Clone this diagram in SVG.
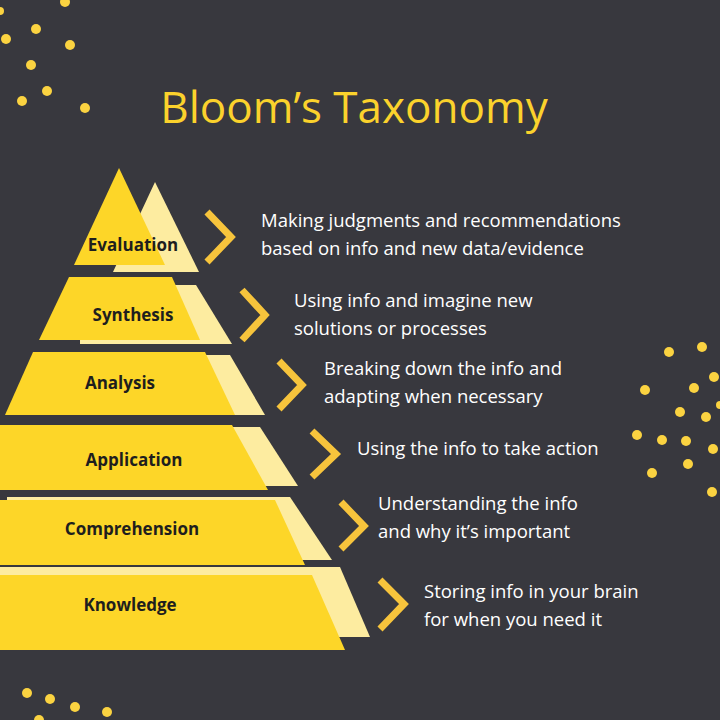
<svg xmlns="http://www.w3.org/2000/svg" width="720" height="720" viewBox="0 0 720 720">
<style>
.f{fill:#fdd628}.b{fill:#fdeca0}.lbl{font-family:"Open Sans",sans-serif;font-weight:bold;font-size:17px;fill:#1e1e1e;text-anchor:middle}
.d{font-family:"Open Sans",sans-serif;font-size:18.5px;fill:#ffffff}
.ch{fill:none;stroke:#f7c43c;stroke-width:7}
.dot{fill:#fbd341}
</style>
<rect width="720" height="720" fill="#38383e"/>
<g id="dots">
<circle class="dot" cx="65" cy="2" r="5"/><circle class="dot" cx="0" cy="11" r="4"/><circle class="dot" cx="36" cy="29" r="5"/><circle class="dot" cx="6" cy="39" r="5"/><circle class="dot" cx="70" cy="45" r="5"/><circle class="dot" cx="31" cy="65" r="5"/><circle class="dot" cx="47" cy="91" r="5"/><circle class="dot" cx="22" cy="101" r="5"/><circle class="dot" cx="85" cy="108" r="5"/>
<circle class="dot" cx="669" cy="352" r="5"/><circle class="dot" cx="702" cy="347" r="5"/><circle class="dot" cx="714" cy="377" r="5"/><circle class="dot" cx="694" cy="388" r="5"/><circle class="dot" cx="645" cy="390" r="5"/><circle class="dot" cx="680" cy="412" r="5"/><circle class="dot" cx="706" cy="417" r="5"/><circle class="dot" cx="637" cy="435" r="5"/><circle class="dot" cx="662" cy="440" r="5"/><circle class="dot" cx="686" cy="441" r="5"/><circle class="dot" cx="713" cy="449" r="5"/><circle class="dot" cx="688" cy="464" r="5"/><circle class="dot" cx="652" cy="473" r="5"/><circle class="dot" cx="712" cy="492" r="5"/><circle class="dot" cx="720" cy="405" r="4"/>
<circle class="dot" cx="27" cy="693" r="5"/><circle class="dot" cx="50" cy="699" r="5"/><circle class="dot" cx="75" cy="707" r="5"/><circle class="dot" cx="107" cy="712" r="5"/><circle class="dot" cx="39" cy="720" r="5"/>
</g>
<text x="354" y="123" font-family="Open Sans, sans-serif" font-size="44" fill="#fbd22c" text-anchor="middle">Bloom’s Taxonomy</text>
<g id="evaluation">
<polygon class="b" points="155,182 199,272 113,272"/>
<polygon class="f" points="119,168 165,265 74,265"/>
<text class="lbl" x="133" y="251">Evaluation</text>
</g>
<g id="synthesis">
<polygon class="b" points="80,285 196,285 232,344 80,344"/>
<polygon class="f" points="69,277 172,277 200,340 39,340"/>
<text class="lbl" x="133" y="321">Synthesis</text>
</g>
<g id="analysis">
<polygon class="b" points="40,355 230,355 265,415 40,415"/>
<polygon class="f" points="33,352 205,352 235,415 5,415"/>
<text class="lbl" x="120" y="389">Analysis</text>
</g>
<g id="application">
<polygon class="b" points="40,427 260,427 298,486 40,486"/>
<polygon class="f" points="0,425 232,425 268,490 0,490"/>
<text class="lbl" x="134" y="466">Application</text>
</g>
<g id="comprehension">
<polygon class="b" points="7,497 290,497 332,560 7,560"/>
<polygon class="f" points="0,500 275,500 305,565 0,565"/>
<text class="lbl" x="132" y="535">Comprehension</text>
</g>
<g id="knowledge">
<polygon class="b" points="0,567 340,567 370,637 0,637"/>
<polygon class="f" points="0,575 312,575 345,650 0,650"/>
<text class="lbl" x="130" y="611">Knowledge</text>
</g>
<g id="connectors">
<polyline class="ch" points="207,212 231,237 207,262"/>
<polyline class="ch" points="242,290 265,315 242,340"/>
<polyline class="ch" points="279,361 302,385 279,409"/>
<polyline class="ch" points="312,431 336,454 312,477"/>
<polyline class="ch" points="341,502 364,526 341,549"/>
<polyline class="ch" points="380,580 404,604 380,629"/>
</g>
<g id="descriptions">
<text class="d" x="261" y="227">Making judgments and recommendations</text>
<text class="d" x="261" y="255">based on info and new data/evidence</text>
<text class="d" x="294" y="307">Using info and imagine new</text>
<text class="d" x="294" y="335">solutions or processes</text>
<text class="d" x="324" y="375">Breaking down the info and</text>
<text class="d" x="324" y="403">adapting when necessary</text>
<text class="d" x="357" y="455">Using the info to take action</text>
<text class="d" x="378" y="510">Understanding the info</text>
<text class="d" x="378" y="538">and why it’s important</text>
<text class="d" x="424" y="598">Storing info in your brain</text>
<text class="d" x="424" y="626">for when you need it</text>
</g>
</svg>
